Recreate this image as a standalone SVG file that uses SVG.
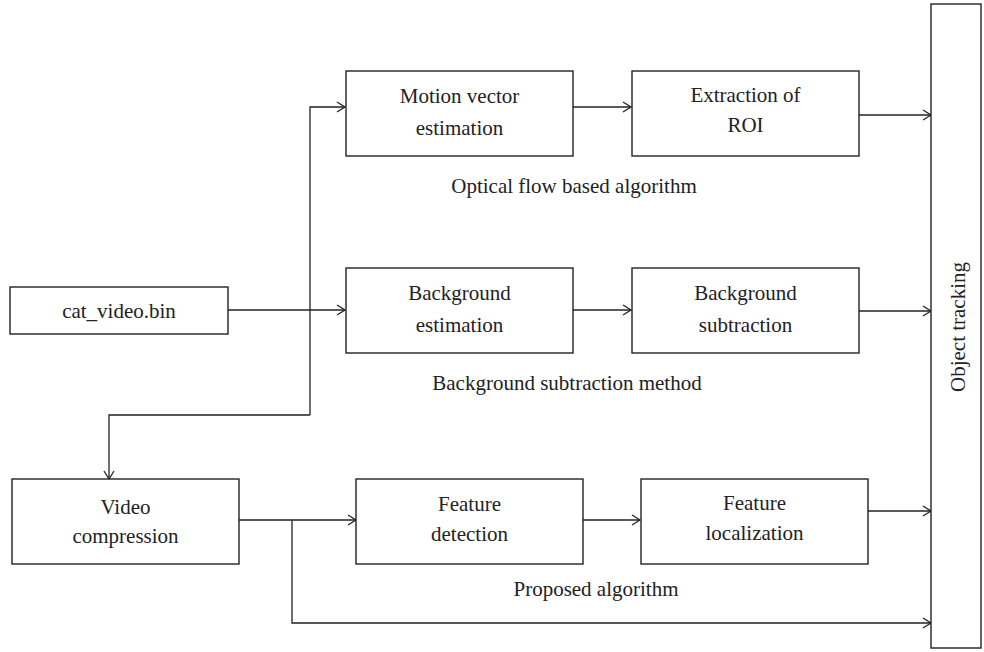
<svg xmlns="http://www.w3.org/2000/svg" width="984" height="652" viewBox="0 0 984 652">
<defs>
<marker id="arr" markerWidth="12" markerHeight="12" refX="10" refY="6" orient="auto" markerUnits="userSpaceOnUse">
<path d="M2,1 L10,6 L2,11" fill="none" stroke="#222" stroke-width="1.3"/>
</marker>
<style>
.box{fill:#fff;stroke:#222;stroke-width:1.4}
.ln{fill:none;stroke:#222;stroke-width:1.3}
text{font-family:"Liberation Serif","Times New Roman",serif;font-size:21px;fill:#222;text-anchor:middle}
</style>
</defs>
<rect width="984" height="652" fill="#fff"/>
<g id="connectors">
<path class="ln" d="M573,107 L631,107" marker-end="url(#arr)"/>
<path class="ln" d="M859,115 L931,115" marker-end="url(#arr)"/>
<path class="ln" d="M228,310 L345,310" marker-end="url(#arr)"/>
<path class="ln" d="M310,415 L310,107 L345,107" marker-end="url(#arr)"/>
<path class="ln" d="M310,415 L109,415 L109,479" marker-end="url(#arr)"/>
<path class="ln" d="M573,310 L631,310" marker-end="url(#arr)"/>
<path class="ln" d="M859,311 L931,311" marker-end="url(#arr)"/>
<path class="ln" d="M239,520 L356,520" marker-end="url(#arr)"/>
<path class="ln" d="M583,520 L640,520" marker-end="url(#arr)"/>
<path class="ln" d="M867,511 L931,511" marker-end="url(#arr)"/>
<path class="ln" d="M292,520 L292,623 L931,623" marker-end="url(#arr)"/>
</g>
<g id="motion">
<rect class="box" x="346" y="71" width="227" height="85"/>
<text x="459.5" y="103">Motion vector</text>
<text x="459.5" y="135">estimation</text>
</g>
<g id="roi">
<rect class="box" x="632" y="71" width="227" height="85"/>
<text x="745.5" y="102">Extraction of</text>
<text x="745.5" y="132">ROI</text>
</g>
<g id="catvideo">
<rect class="box" x="10" y="287" width="218" height="47"/>
<text x="119" y="318">cat_video.bin</text>
</g>
<g id="bgest">
<rect class="box" x="346" y="268" width="227" height="85"/>
<text x="459.5" y="300">Background</text>
<text x="459.5" y="332">estimation</text>
</g>
<g id="bgsub">
<rect class="box" x="632" y="268" width="227" height="85"/>
<text x="745.5" y="300">Background</text>
<text x="745.5" y="332">subtraction</text>
</g>
<g id="vidcomp">
<rect class="box" x="12" y="479" width="227" height="85"/>
<text x="125.5" y="514">Video</text>
<text x="125.5" y="543">compression</text>
</g>
<g id="featdet">
<rect class="box" x="356" y="479" width="227" height="85"/>
<text x="469.5" y="511">Feature</text>
<text x="469.5" y="541">detection</text>
</g>
<g id="featloc">
<rect class="box" x="641" y="479" width="227" height="85"/>
<text x="754.5" y="510">Feature</text>
<text x="754.5" y="540">localization</text>
</g>
<g id="tracking">
<rect class="box" x="931" y="4" width="50" height="644"/>
<text transform="translate(965,327) rotate(-90)">Object tracking</text>
</g>
<g id="labels">
<text x="574" y="193">Optical flow based algorithm</text>
<text x="567" y="390">Background subtraction method</text>
<text x="596" y="596">Proposed algorithm</text>
</g>
</svg>
